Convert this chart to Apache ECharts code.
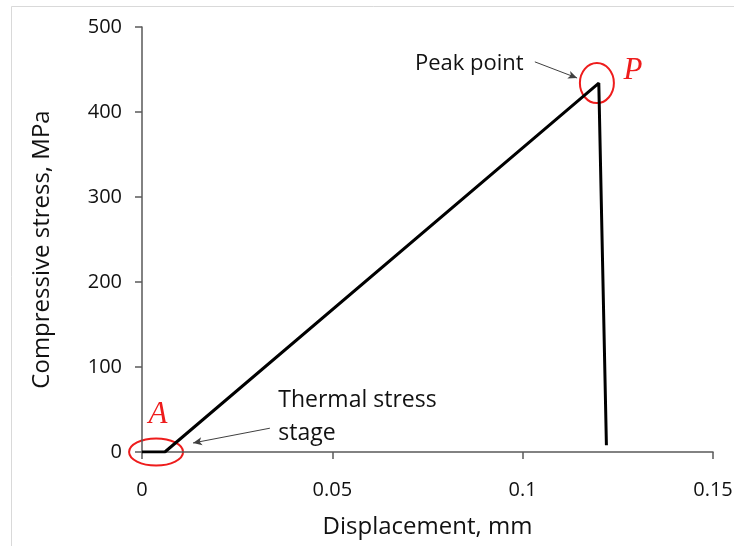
<!DOCTYPE html>
<html>
<head>
<meta charset="utf-8">
<script src="https://cdn.jsdelivr.net/npm/echarts@6/dist/echarts.min.js"></script>
<style>
  html, body { margin: 0; padding: 0; background: #fff; }
  #chart { width: 734px; height: 546px; }
</style>
</head>
<body>
<div id="chart"></div>
<script>
// stress-displacement curve
const displacement = [0, 0.006, 0.12, 0.122];
const stress = [0, 0, 434, 8];

const xMin = 0, xMax = 0.15, xStep = 0.05;
const yMin = 0, yMax = 500, yStep = 100;

// annotation anchors, in data units
const peakArrow = [[0.1032, 459], [0.1143, 440]];
const thermalArrow = [[0.0336, 28], [0.0134, 10.6]];

const font = 'Open Sans';
const axisColor = '#595959';
const red = '#ee1c1c';

const chart = echarts.init(document.getElementById('chart'));

const arrowLine = (pts) => [
  { coord: pts[0], symbol: 'none' },
  { coord: pts[1], symbol: 'arrow', symbolSize: [6, 9] }
];

chart.setOption({
  animation: false,
  backgroundColor: '#fff',
  grid: { left: 142, right: 21, top: 27, bottom: 94, outerBoundsMode: 'none', containLabel: false },
  xAxis: {
    type: 'value',
    min: xMin, max: xMax, interval: xStep,
    name: 'Displacement, mm',
    nameLocation: 'middle',
    nameGap: 63,
    nameTextStyle: { fontFamily: font, fontSize: 24, color: '#111' },
    axisLine: { show: true, lineStyle: { color: axisColor, width: 1.5 } },
    axisTick: { show: true, length: 7, lineStyle: { color: axisColor, width: 1.5 } },
    axisLabel: { margin: 28, fontFamily: font, fontSize: 20, color: '#111' },
    splitLine: { show: false }
  },
  yAxis: {
    type: 'value',
    min: yMin, max: yMax, interval: yStep,
    name: 'Compressive stress, MPa',
    nameLocation: 'middle',
    nameGap: 88,
    nameTextStyle: { fontFamily: font, fontSize: 24, color: '#111', padding: [0, 20, 0, 0] },
    axisLine: { show: true, lineStyle: { color: axisColor, width: 1.5 } },
    axisTick: { show: true, length: 7, lineStyle: { color: axisColor, width: 1.5 } },
    axisLabel: { margin: 20, fontFamily: font, fontSize: 20, color: '#111' },
    splitLine: { show: false }
  },
  series: [{
    type: 'line',
    data: displacement.map((x, i) => [x, stress[i]]),
    symbol: 'none',
    lineStyle: { color: '#000', width: 3 },
    markLine: {
      silent: true,
      label: { show: false },
      lineStyle: { color: '#404040', width: 1, type: 'solid' },
      data: [arrowLine(peakArrow), arrowLine(thermalArrow)]
    }
  }]
});

// place the hand-drawn annotations through the chart's own scales
const px = (p) => chart.convertToPixel({ gridIndex: 0 }, p);
const a = px([0.0037, 0]);
const p = px([0.1195, 434]);
const aLabel = px([0.0042, 44]);
const pLabel = px([0.129, 449]);
const peakText = px([0.0717, 457]);
const thermalText = px([0.0358, 80]);

chart.setOption({
  graphic: [
    { type: 'rect', silent: true, shape: { x: 11.5, y: 6.5, width: 900, height: 700 },
      style: { fill: 'none', stroke: '#d9d9d9', lineWidth: 1 } },
    { type: 'ellipse', silent: true, shape: { cx: a[0], cy: a[1], rx: 27, ry: 13.5 },
      style: { fill: 'none', stroke: red, lineWidth: 2 } },
    { type: 'ellipse', silent: true, shape: { cx: p[0], cy: p[1], rx: 17, ry: 20 },
      style: { fill: 'none', stroke: red, lineWidth: 2 } },
    { type: 'text', silent: true, x: aLabel[0], y: aLabel[1],
      style: { text: 'A', fill: red, font: 'italic 31px "Liberation Serif"', align: 'center', verticalAlign: 'middle' } },
    { type: 'text', silent: true, x: pLabel[0], y: pLabel[1],
      style: { text: 'P', fill: red, font: 'italic 31px "Liberation Serif"', align: 'center', verticalAlign: 'middle' } },
    { type: 'text', silent: true, x: peakText[0], y: peakText[1],
      style: { text: 'Peak point', fill: '#111', font: '22px "Open Sans"', align: 'left', verticalAlign: 'middle' } },
    { type: 'text', silent: true, x: thermalText[0], y: thermalText[1],
      style: { text: 'Thermal stress\nstage', fill: '#111', font: '23px "Open Sans"', lineHeight: 33, align: 'left', verticalAlign: 'top' } }
  ]
});
</script>
</body>
</html>
